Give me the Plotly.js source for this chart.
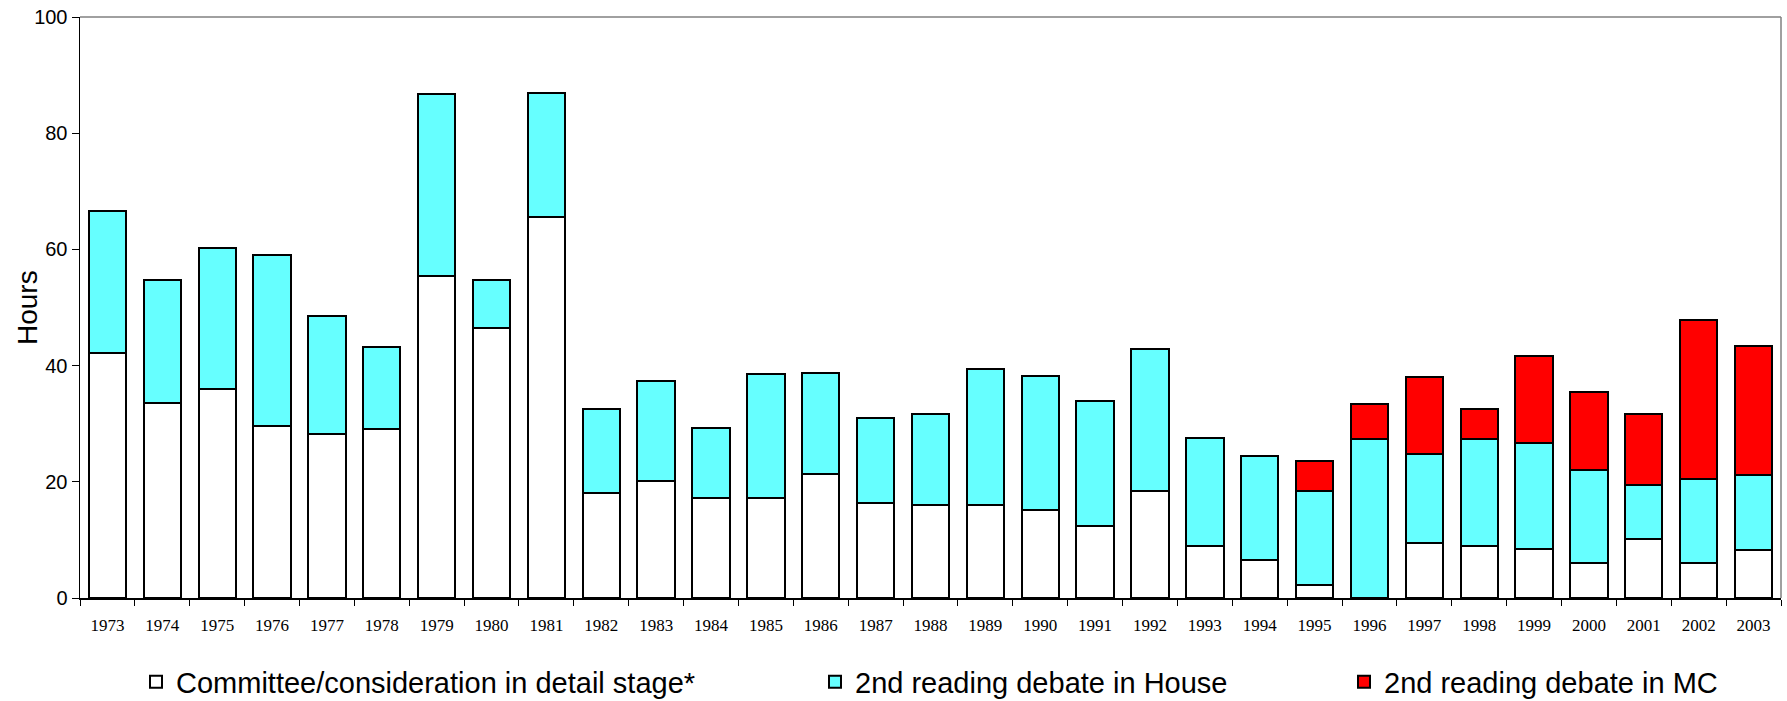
<!DOCTYPE html>
<html>
<head>
<meta charset="utf-8">
<script src="https://cdn.plot.ly/plotly-3.0.1.min.js"></script>
<style>
html,body{margin:0;padding:0;background:#fff;}
#chart{width:1787px;height:701px;}
</style>
</head>
<body>
<div id="chart"></div>
<script>
const years = ["1973","1974","1975","1976","1977","1978","1979","1980","1981","1982","1983","1984","1985","1986","1987","1988","1989","1990","1991","1992","1993","1994","1995","1996","1997","1998","1999","2000","2001","2002","2003"];
const committeeHours = [42.1,33.5,36.0,29.6,28.3,29.1,55.5,46.4,65.5,18.0,20.2,17.2,17.2,21.4,16.3,16.0,16.0,15.1,12.4,18.5,9.0,6.5,2.2,0,9.4,9.0,8.4,6.0,10.1,6.0,8.3];
const houseHours = [24.5,21.3,24.2,29.5,20.2,14.1,31.3,8.4,21.5,14.6,17.2,12.1,21.3,17.4,14.6,15.6,23.5,23.1,21.5,24.3,18.5,18.0,16.3,27.4,15.3,18.4,18.3,16.1,9.4,14.4,12.9];
const mcHours = [null,null,null,null,null,null,null,null,null,null,null,null,null,null,null,null,null,null,null,null,null,null,5.1,6.0,13.4,5.2,15.0,13.4,12.1,27.5,22.2];
const yTicks = [0,20,40,60,80,100];
const seriesNames = ["Committee/consideration in detail stage*","2nd reading debate in House","2nd reading debate in MC"];
const seriesColors = ["#FFFFFF","#66FFFF","#FF0000"];
const yTitle = "Hours";

const lineStyle = {color:"#000000", width:2};
const traces = [
  {type:"bar", x:years, y:committeeHours, name:seriesNames[0], legend:"legend",
   marker:{color:seriesColors[0], line:lineStyle}},
  {type:"bar", x:years, y:houseHours, name:seriesNames[1], legend:"legend2",
   marker:{color:seriesColors[1], line:lineStyle}},
  {type:"bar", x:years, y:mcHours, name:seriesNames[2], legend:"legend3",
   marker:{color:seriesColors[2], line:lineStyle}}
];

const legendFont = {family:"Liberation Sans, Arial, sans-serif", size:29, color:"#000"};
function legendAt(px){
  return {x:px/1787, xref:"container", xanchor:"left", y:1-682/701, yref:"container", yanchor:"middle",
          orientation:"h", font:legendFont, bgcolor:"rgba(0,0,0,0)", borderwidth:0};
}

const layout = {
  width:1787, height:701,
  margin:{l:80, r:6, t:17, b:103},
  paper_bgcolor:"#fff", plot_bgcolor:"#fff",
  barmode:"stack", bargap:0.32,
  showlegend:true,
  legend:legendAt(136),
  legend2:legendAt(815),
  legend3:legendAt(1344),
  xaxis:{type:"category", showgrid:false, zeroline:false,
         showline:true, linecolor:"#000", linewidth:1.5,
         ticks:"outside", tickson:"boundaries", ticklen:6, tickcolor:"#000", tickwidth:1,
         tickfont:{family:"Liberation Serif, Times New Roman, serif", size:17, color:"#000"},
         ticklabelstandoff:11},
  xaxis2:{overlaying:"x", anchor:"y", type:"linear", range:[-0.5,30.5], showgrid:false, zeroline:false,
          showline:false, ticks:"inside", ticklen:6, tickcolor:"#000", tickwidth:1,
          tick0:-0.5, dtick:1, showticklabels:false},
  yaxis:{range:[0,100], tickvals:yTicks, showgrid:false, zeroline:false,
         showline:true, linecolor:"#000", linewidth:1.5,
         ticks:"outside", ticklen:7, tickcolor:"#000", tickwidth:1,
         tickfont:{family:"Liberation Sans, Arial, sans-serif", size:20, color:"#000"}},
  yaxis2:{overlaying:"y", anchor:"x", range:[0,100], tickvals:yTicks, showgrid:false, zeroline:false,
          showline:false, ticks:"inside", ticklen:7, tickcolor:"#000", tickwidth:1, showticklabels:false},
  annotations:[
    {text:yTitle, xref:"paper", yref:"paper", x:(27.5-80)/1701, y:0.5, xanchor:"center", yanchor:"middle",
     textangle:-90, showarrow:false, font:{family:"Liberation Sans, Arial, sans-serif", size:28, color:"#000"}}
  ],
  shapes:[
    {type:"line", xref:"paper", yref:"paper", x0:0, x1:1, y0:1, y1:1, line:{color:"#808080", width:1.5}},
    {type:"line", xref:"paper", yref:"paper", x0:1, x1:1, y0:0, y1:1, line:{color:"#808080", width:1.5}}
  ]
};

Plotly.newPlot("chart", traces, layout, {staticPlot:true, displayModeBar:false});
</script>
</body>
</html>
